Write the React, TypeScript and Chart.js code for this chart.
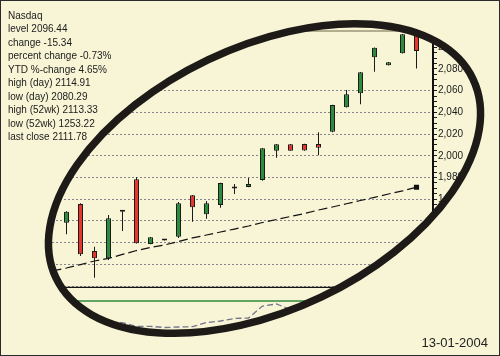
import React, { useEffect, useRef } from "react";
import { Chart, registerables } from "chart.js";

Chart.register(...registerables);

// ---------- text ----------
const INFO_LINES = [
  "Nasdaq",
  "level 2096.44",
  "change -15.34",
  "percent change -0.73%",
  "YTD %-change 4.65%",
  "high (day) 2114.91",
  "low (day) 2080.29",
  "high (52wk) 2113.33",
  "low (52wk) 1253.22",
  "last close 2111.78",
];
const DATE_LABEL = "13-01-2004";

// ---------- data (trading days 0..25) ----------
const OPEN = [1938.3, 1955.6, 1912.3, 1905.6, 1948.5, 1978.3, 1918.7, 1922.0, 1925.4, 1963.6, 1946.1, 1954.6, 1969.9, 1971.2, 1977.7, 2004.7, 2010.6, 2010.8, 2010.8, 2022.2, 2044.6, 2057.5, 2090.7, 2083.3, 2094.4, 2111.78];
const HIGH = [1948.8, 1956.2, 1916.2, 1945.4, 1948.9, 1980.2, 1925.1, 1922.3, 1957.4, 1963.8, 1958.3, 1975.1, 1974.0, 1979.5, 2007.1, 2010.8, 2010.8, 2011.0, 2021.6, 2047.0, 2060.6, 2077.1, 2099.7, 2086.3, 2112.1, 2114.91];
const LOW = [1927.7, 1907.7, 1887.7, 1904.0, 1930.7, 1919.1, 1918.5, 1921.9, 1924.3, 1939.3, 1942.0, 1952.2, 1964.8, 1971.0, 1977.0, 1998.2, 2004.5, 2004.7, 2000.4, 2021.6, 2044.4, 2047.4, 2077.4, 2083.1, 2094.2, 2080.29];
const CLOSE = [1948.5, 1909.2, 1905.6, 1942.4, 1948.7, 1919.4, 1924.9, 1922.2, 1956.2, 1952.5, 1956.2, 1974.9, 1970.1, 1974.0, 2006.9, 2010.6, 2004.7, 2004.9, 2007.4, 2046.8, 2056.6, 2076.9, 2099.5, 2086.1, 2111.9, 2096.44];

// moving average, starting one day before day 0
const MA_FIRST_DAY = -1;
const MOVING_AVG = [1893.9, 1896.6, 1899.8, 1903.1, 1905.4, 1909.1, 1912.7, 1915.5, 1917.8, 1921.0, 1924.3, 1927.0, 1929.8, 1932.5, 1935.3, 1938.5, 1941.3, 1944.1, 1946.8, 1950.0, 1952.8, 1955.8, 1958.8, 1961.7, 1964.8, 1967.7, 1971.0];

// lower oscillator panel (days 0..25)
const INDICATOR = [43.9, 42.0, 39.3, 34.2, 35.6, 28.3, 28.7, 26.5, 27.4, 28.0, 35.6, 38.4, 43.0, 43.9, 65.8, 69.5, 59.4, 58.5, 78.6, 82.3, 84.0, 88.0, 91.0, 90.0, 93.0, 85.0];
const INDICATOR_LEVELS = [100, 75];

// ticks
const Y_LABEL_TICKS = [1960, 1980, 2000, 2020, 2040, 2060, 2080, 2100];
const Y_GRID_TICKS = [1880, 1900, 1920, 1940, 1960, 1980, 2000, 2020, 2040, 2060];
const Y_MINOR_STEP = 5;

// ---------- scale bounds / styles ----------
const X_MIN = -4.1786;
const X_MAX = 26.1786;
const Y_MIN = 1825.7;
const Y_MAX = 2114.9;
const Y2_MIN = -5.48;
const Y2_MAX = 568.6;

const BG = "#f7f5d6";
const GREEN = "#2c8c3c";
const RED = "#e5372d";
const DARK = "#1b1b1b";
const GRID = "#85858f";
const LEVEL_COLORS = ["#151515", "#2e8a3c"];
const ELLIPSE = { cx: 264.5, cy: 178.5, rx: 231, ry: 131.5, rot: (-25.5 * Math.PI) / 180, width: 7.5, color: "#1d1a17" };
const FONT_FAMILY = '"Liberation Sans", Arial, sans-serif';

const near = (list: number[], v: number) => list.some((t) => Math.abs(t - v) < 1e-6);

const ellipsePlugin = {
  id: "ellipseFrame",
  beforeDraw(chart: any) {
    const ctx = chart.ctx as CanvasRenderingContext2D;
    ctx.save();
    ctx.beginPath();
    ctx.ellipse(ELLIPSE.cx, ELLIPSE.cy, ELLIPSE.rx, ELLIPSE.ry, ELLIPSE.rot, 0, Math.PI * 2);
    ctx.clip();
  },
  afterDraw(chart: any) {
    const ctx = chart.ctx as CanvasRenderingContext2D;
    ctx.restore();
    ctx.save();
    ctx.beginPath();
    ctx.ellipse(ELLIPSE.cx, ELLIPSE.cy, ELLIPSE.rx, ELLIPSE.ry, ELLIPSE.rot, 0, Math.PI * 2);
    ctx.lineWidth = ELLIPSE.width;
    ctx.strokeStyle = ELLIPSE.color;
    ctx.stroke();
    ctx.lineWidth = 1;
    ctx.strokeStyle = "#2a2a2a";
    ctx.strokeRect(0.5, 0.5, chart.width - 1, chart.height - 1);
    ctx.restore();
  },
};

export default function App() {
  const ref = useRef<HTMLCanvasElement>(null);

  useEffect(() => {
    const canvas = ref.current;
    if (!canvas) return;
    const days = OPEN.map((_, i) => i);
    const bodyColors = days.map((i) => (CLOSE[i] >= OPEN[i] ? GREEN : RED));

    const chart = new Chart(canvas, {
      type: "bar",
      data: {
        datasets: [
          {
            type: "bar",
            label: "body",
            data: days.map((i) => ({ x: i, y: [OPEN[i], CLOSE[i]] })),
            backgroundColor: bodyColors,
            borderColor: DARK,
            borderWidth: 1,
            borderSkipped: false,
            barThickness: 5,
            minBarLength: 2,
            grouped: false,
            inflateAmount: 0,
            order: 1,
            xAxisID: "x",
            yAxisID: "y",
          } as any,
          {
            type: "bar",
            label: "wick",
            data: days.map((i) => ({ x: i, y: [LOW[i], HIGH[i]] })),
            backgroundColor: DARK,
            borderWidth: 0,
            barThickness: 1,
            minBarLength: 1,
            grouped: false,
            inflateAmount: 0,
            order: 2,
            xAxisID: "x",
            yAxisID: "y",
          } as any,
          {
            type: "line",
            label: "average",
            data: MOVING_AVG.map((v, k) => ({ x: k + MA_FIRST_DAY, y: v })),
            borderColor: "#111111",
            borderWidth: 1.2,
            borderDash: [9, 4],
            tension: 0,
            pointStyle: "rect",
            pointRadius: (c: any) => (c.dataIndex === MOVING_AVG.length - 1 ? 3.6 : 0),
            pointBackgroundColor: "#111111",
            pointBorderColor: "#111111",
            pointBorderWidth: 0,
            order: 3,
            xAxisID: "x",
            yAxisID: "y",
          } as any,
          {
            type: "line",
            label: "oscillator",
            data: INDICATOR.map((v, i) => ({ x: i, y: v })),
            borderColor: "#74748c",
            borderWidth: 1.3,
            borderDash: [6, 3],
            tension: 0,
            pointRadius: 0,
            order: 4,
            xAxisID: "x",
            yAxisID: "y2",
          } as any,
          ...INDICATOR_LEVELS.map(
            (lvl, k) =>
              ({
                type: "line",
                label: "level " + lvl,
                data: [
                  { x: X_MIN, y: lvl },
                  { x: X_MAX, y: lvl },
                ],
                borderColor: LEVEL_COLORS[k],
                borderWidth: 1.3,
                pointRadius: 0,
                order: 5,
                xAxisID: "x",
                yAxisID: "y2",
              } as any)
          ),
        ],
      },
      options: {
        responsive: false,
        animation: false,
        devicePixelRatio: 1,
        events: [],
        layout: { padding: { left: 8, right: 0, top: 31, bottom: 11 } },
        plugins: {
          legend: { display: false },
          tooltip: { enabled: false },
          title: { display: false },
        },
        scales: {
          x: {
            type: "linear",
            position: "top",
            min: X_MIN,
            max: X_MAX,
            offset: false,
            ticks: { display: false },
            grid: { display: true, drawOnChartArea: false, drawTicks: false, offset: false },
            border: { display: true, color: "#b3ad90", width: 2 },
          },
          y: {
            type: "linear",
            position: "right",
            min: Y_MIN,
            max: Y_MAX,
            afterFit: (s: any) => {
              s.width = 67;
            },
            afterBuildTicks: (s: any) => {
              const t: { value: number }[] = [];
              for (let v = Math.ceil(Y_MIN / Y_MINOR_STEP) * Y_MINOR_STEP; v <= Y_MAX; v += Y_MINOR_STEP) t.push({ value: v });
              s.ticks = t;
            },
            ticks: {
              autoSkip: false,
              padding: 1,
              color: DARK,
              font: { family: FONT_FAMILY, size: 10 },
              callback: (v: any) => (near(Y_LABEL_TICKS, Number(v)) ? Number(v).toLocaleString("en-US") : ""),
            },
            grid: {
              color: (c: any) => (c.tick && near(Y_GRID_TICKS, c.tick.value) ? GRID : "rgba(0,0,0,0)"),
              lineWidth: 1,
              drawTicks: true,
              tickLength: 4,
              tickColor: DARK,
              tickWidth: 1,
            },
            border: { display: true, color: "#111111", width: 2, dash: [2, 2] },
          },
          y2: {
            type: "linear",
            display: false,
            min: Y2_MIN,
            max: Y2_MAX,
          },
        },
      } as any,
      plugins: [ellipsePlugin],
    });
    return () => chart.destroy();
  }, []);

  return (
    <div style={{ position: "absolute", left: 0, top: 0, width: 500, height: 356, background: BG, overflow: "hidden" }}>
      <canvas ref={ref} width={500} height={356} style={{ position: "absolute", left: 0, top: 0, width: 500, height: 356 }} />
      <div
        style={{
          position: "absolute",
          left: 8,
          top: 8.7,
          font: `10px ${FONT_FAMILY}`,
          lineHeight: "13.5px",
          color: "#1b1b1b",
          whiteSpace: "pre",
        }}
      >
        {INFO_LINES.map((l) => (
          <div key={l}>{l}</div>
        ))}
      </div>
      <div
        style={{
          position: "absolute",
          right: 12,
          top: 335.7,
          font: `13px ${FONT_FAMILY}`,
          lineHeight: "13px",
          color: "#222222",
          whiteSpace: "pre",
        }}
      >
        {DATE_LABEL}
      </div>
    </div>
  );
}
